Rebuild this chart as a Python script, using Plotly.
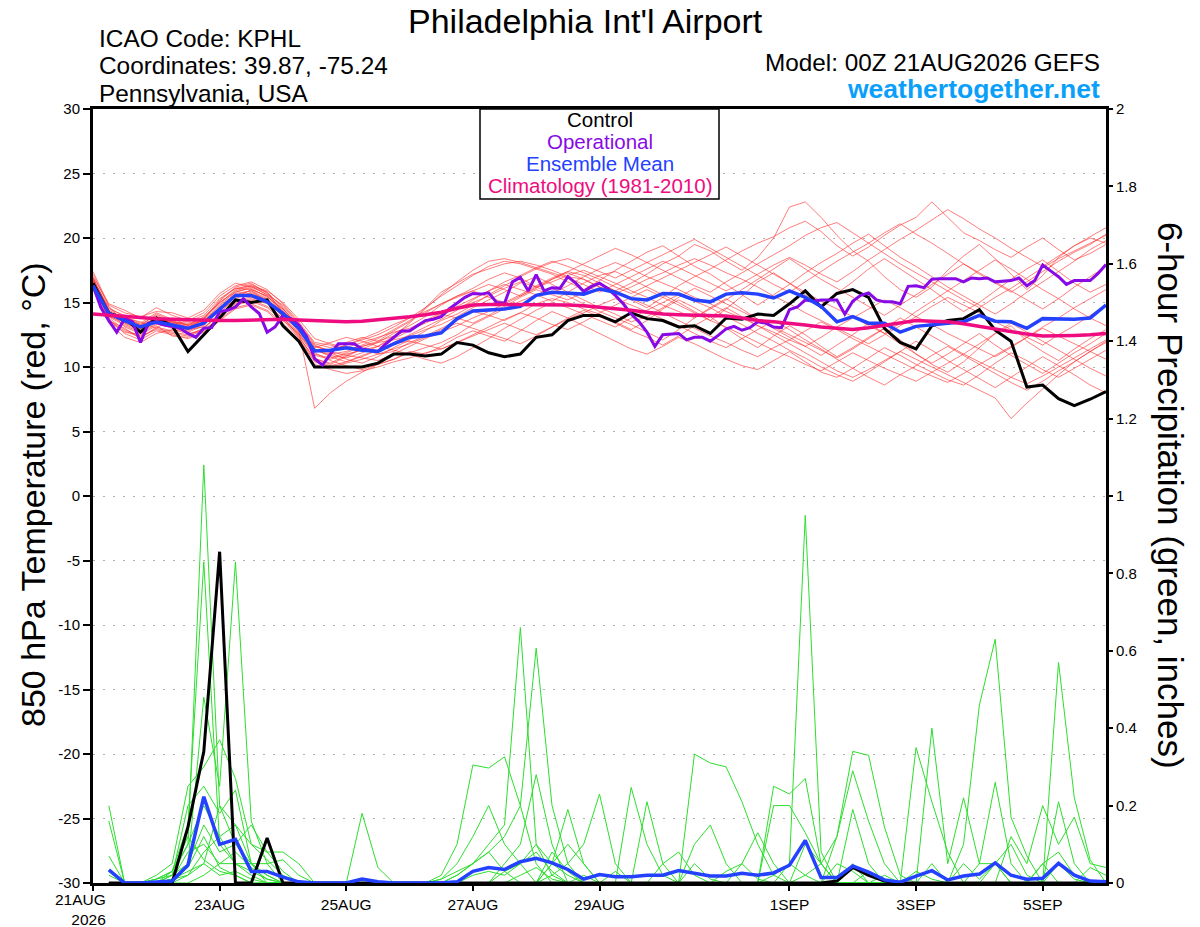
import pandas as pd
import plotly.graph_objects as go

# ---- data (6-hourly, 00Z 21 Aug 2026 start) ----
start = pd.Timestamp("2026-08-21 00:00")
t6 = pd.date_range(start, periods=65, freq="6h")
t3 = pd.date_range(start, periods=129, freq="3h")   # operational run is 3-hourly

tick_dates = ["2026-08-23", "2026-08-25", "2026-08-27", "2026-08-29",
              "2026-09-01", "2026-09-03", "2026-09-05"]
tick_text = ["23AUG", "25AUG", "27AUG", "29AUG", "1SEP", "3SEP", "5SEP"]
temp_ticks = list(range(-30, 31, 5))
precip_ticks = [0, 0.2, 0.4, 0.6, 0.8, 1, 1.2, 1.4, 1.6, 1.8, 2]

control_temp = [16.5, 14.15, 13.8, 12.7, 13.8, 13.2, 11.2, 12.5, 13.8, 15.2,
                15.0, 15.2, 13.2, 12.0, 10.0, 10.0, 10.0, 10.0, 10.3, 11.0,
                11.0, 10.85, 11.0, 11.9, 11.7, 11.1, 10.8, 11.0, 12.3, 12.5,
                13.6, 14.0, 14.0, 13.5, 14.2, 13.75, 13.6, 13.1, 13.2, 12.6,
                13.8, 13.7, 14.1, 14.0, 14.9, 15.9, 14.65, 15.7, 16.0, 15.4,
                13.0, 11.9, 11.4, 13.2, 13.6, 13.75, 14.45, 12.85, 12.0, 8.45,
                8.6, 7.55, 7.0, 7.5, 8.1]

mean_temp = [16.3, 14.15, 13.6, 13.1, 13.5, 13.25, 13.0, 13.4, 14.45, 15.55,
             15.55, 15.05, 14.15, 13.0, 11.25, 11.3, 11.5, 11.3, 11.2, 11.8,
             12.3, 12.4, 12.65, 13.75, 14.35, 14.45, 14.5, 14.7, 15.55, 15.8,
             15.75, 15.65, 16.05, 15.8, 15.3, 15.2, 15.7, 15.65, 15.2, 15.05,
             15.65, 15.75, 15.65, 15.35, 15.9, 15.4, 14.7, 13.5, 13.9, 13.4,
             13.4, 12.7, 13.15, 13.25, 13.35, 13.5, 14.0, 13.55, 13.5, 13.0,
             13.75, 13.75, 13.7, 13.8, 14.8]

clim_temp = [14.1, 14.0, 13.9, 13.8, 13.75, 13.7, 13.65, 13.6, 13.6, 13.6,
             13.65, 13.7, 13.7, 13.65, 13.6, 13.55, 13.5, 13.55, 13.65, 13.8,
             13.9, 14.05, 14.25, 14.55, 14.8, 14.85, 14.85, 14.85, 14.85, 14.85,
             14.8, 14.75, 14.65, 14.55, 14.4, 14.25, 14.1, 14.05, 14.0, 14.0,
             13.95, 13.8, 13.6, 13.5, 13.4, 13.25, 13.1, 13.0, 12.9, 13.05,
             13.25, 13.45, 13.6, 13.55, 13.5, 13.35, 13.15, 12.95, 12.7, 12.55,
             12.4, 12.4, 12.45, 12.5, 12.6]

oper_temp = [16.3, 14.6, 13.6, 12.7, 13.75, 13.5, 11.9, 13.4, 13.45, 13.25,
             13.15, 13.0, 12.6, 12.3, 13.0, 13.05, 14.3, 14.4, 14.65, 15.3,
             14.65, 14.15, 12.7, 13.1, 14.0, 13.75, 13.25, 12.35, 10.65, 10.15,
             11.0, 11.8, 11.8, 11.8, 11.4, 11.3, 11.2, 11.8, 12.3, 12.8,
             12.8, 13.2, 13.6, 13.7, 13.9, 14.5, 14.95, 15.4, 15.7, 15.65,
             15.75, 15.0, 14.95, 16.6, 16.95, 15.9, 17.15, 15.9, 16.15, 16.1,
             17.0, 16.5, 15.85, 16.25, 16.5, 16.1, 15.55, 14.9, 14.1, 13.5,
             12.7, 11.6, 12.5, 12.55, 12.6, 12.1, 12.3, 12.3, 12.0, 12.45,
             12.95, 13.15, 12.85, 13.05, 13.5, 13.4, 13.1, 13.05, 14.45, 14.65,
             15.2, 15.1, 15.2, 15.2, 15.2, 14.1, 15.1, 15.55, 15.75, 15.2,
             15.05, 15.05, 14.9, 16.25, 16.3, 16.15, 16.8, 16.85, 16.85, 16.85,
             16.6, 16.9, 16.85, 16.9, 16.6, 16.65, 16.7, 16.9, 16.3, 16.7,
             17.9, 17.45, 17.0, 16.4, 16.7, 16.7, 16.7, 17.25, 17.95]

ens_temp = [
    [16.8, 14.5, 14.0, 13.2, 14.1, 13.6, 13.2, 13.9, 15.0, 15.9, 16.3, 15.6, 14.8, 13.4, 11.8, 11.5, 11.9, 12.3, 12.0, 12.8,
     13.5, 14.6, 15.8, 16.5, 17.2, 17.6, 18.0, 18.2, 17.9, 17.5, 17.0, 16.8, 16.2, 15.9, 16.5, 17.2, 18.0, 18.6, 19.5, 19.0,
     18.2, 17.5, 18.5, 20.0, 22.4, 22.8, 21.6, 20.2, 19.0, 18.2, 17.0, 16.0, 15.4, 16.2, 17.5, 18.6, 19.5, 18.4, 17.2, 16.0,
     17.1, 18.5, 19.4, 20.0, 19.6],
    [16.5, 13.8, 12.9, 12.4, 12.9, 12.6, 12.4, 13.0, 14.2, 15.3, 15.8, 15.2, 13.9, 12.4, 10.6, 10.3, 10.9, 11.4, 11.0, 11.2,
     11.9, 12.4, 13.0, 13.6, 14.3, 14.0, 13.6, 14.2, 14.9, 15.3, 15.0, 14.5, 14.1, 13.5, 12.9, 13.6, 14.5, 15.2, 14.6, 13.9,
     13.0, 12.2, 11.5, 12.4, 13.2, 12.5, 11.6, 10.8, 11.5, 12.3, 13.0, 12.1, 11.0, 10.2, 9.6, 10.4, 11.5, 12.6, 13.2, 12.0,
     11.2, 10.5, 11.4, 12.2, 12.9],
    [17.0, 14.9, 14.4, 13.8, 14.6, 14.0, 13.6, 14.2, 15.5, 16.3, 16.6, 16.0, 14.9, 13.5, 11.9, 11.7, 11.4, 11.6, 11.9, 12.6,
     13.2, 13.9, 14.8, 15.5, 16.1, 16.8, 17.3, 16.9, 16.2, 16.8, 17.4, 17.1, 16.5, 15.9, 15.2, 14.6, 15.4, 16.3, 17.0, 17.6,
     18.3, 19.0, 19.6, 20.1, 20.8, 21.3, 20.5, 19.4, 18.6, 19.3, 20.2, 21.0, 21.6, 22.8, 21.6, 20.4, 19.8, 19.1, 18.5, 19.3,
     20.0, 19.1, 18.3, 18.8, 19.5],
    [16.2, 13.4, 12.3, 11.9, 12.6, 12.9, 12.6, 12.8, 13.9, 14.8, 15.1, 14.6, 13.6, 12.6, 11.1, 10.5, 10.1, 9.8, 10.2, 10.6,
     11.2, 11.0, 11.6, 12.3, 12.8, 12.4, 12.0, 12.8, 13.6, 14.3, 13.8, 13.2, 12.6, 12.0, 11.4, 11.0, 11.6, 12.3, 11.8, 11.2,
     10.6, 10.1, 9.8, 10.5, 11.2, 10.4, 9.6, 9.2, 9.9, 10.7, 11.5, 10.9, 10.2, 9.6, 9.0, 8.6, 9.4, 10.3, 11.1, 10.5,
     9.8, 9.2, 9.9, 10.6, 11.3],
    [16.6, 14.3, 13.8, 13.5, 13.0, 13.8, 13.2, 13.6, 14.8, 15.8, 16.1, 15.4, 14.5, 13.2, 11.4, 10.8, 10.4, 10.8, 11.3, 11.9,
     12.5, 13.1, 13.7, 14.4, 15.2, 15.9, 16.4, 16.0, 15.6, 15.1, 15.8, 16.5, 17.1, 17.4, 16.8, 16.2, 15.6, 15.0, 14.3, 13.6,
     14.5, 15.5, 16.6, 17.3, 16.5, 15.6, 14.8, 15.7, 16.6, 17.6, 18.4, 17.6, 16.8, 16.0, 15.1, 14.3, 15.0, 15.9, 16.8, 17.6,
     18.3, 17.4, 16.5, 15.8, 16.4],
    [16.4, 13.9, 13.2, 12.7, 13.4, 13.0, 12.8, 13.3, 14.4, 15.2, 15.4, 15.0, 14.1, 12.8, 6.8, 8.0, 8.9, 9.6, 10.2, 10.6,
     11.1, 11.5, 11.9, 12.5, 13.3, 13.9, 14.5, 15.1, 15.6, 16.1, 15.5, 14.9, 14.3, 13.8, 13.3, 12.7, 12.1, 12.9, 13.8, 14.6,
     15.3, 14.5, 13.7, 13.0, 12.3, 11.6, 10.9, 11.7, 12.5, 13.4, 12.6, 11.8, 11.0, 10.3, 11.0, 11.8, 12.6, 11.7, 10.9, 10.2,
     9.5, 10.3, 11.1, 11.8, 12.6],
    [17.2, 14.7, 13.4, 12.9, 13.9, 13.4, 13.1, 13.5, 14.3, 15.6, 15.9, 15.3, 14.3, 13.1, 11.6, 11.2, 11.7, 12.1, 12.5, 13.1,
     13.8, 14.6, 15.5, 16.3, 17.1, 17.8, 18.2, 18.0, 17.6, 17.2, 16.6, 16.0, 16.7, 17.5, 18.2, 18.9, 19.4, 18.6, 17.8, 17.2,
     16.4, 15.6, 14.8, 15.6, 16.4, 17.3, 18.1, 18.8, 19.6, 20.3, 19.4, 18.5, 17.8, 17.0, 16.2, 15.5, 14.8, 14.1, 14.9, 15.8,
     16.6, 17.4, 18.2, 19.1, 19.8],
    [16.0, 13.6, 13.0, 12.2, 13.1, 12.8, 12.9, 13.1, 14.0, 14.9, 15.2, 14.7, 13.8, 12.5, 10.9, 10.6, 11.0, 11.3, 11.6, 11.3,
     11.0, 10.6, 10.3, 10.8, 11.5, 12.2, 13.0, 13.7, 14.4, 15.0, 14.6, 14.1, 13.6, 13.1, 13.8, 14.4, 15.0, 15.6, 15.1, 14.6,
     13.9, 13.3, 12.6, 12.0, 11.3, 10.7, 10.0, 9.4, 8.9, 9.6, 10.4, 11.2, 12.0, 11.3, 10.5, 9.8, 9.1, 8.4, 9.2, 10.0,
     10.8, 10.1, 9.4, 8.6, 8.0],
    [16.7, 14.1, 13.7, 13.3, 13.7, 13.5, 13.4, 13.8, 14.9, 16.0, 16.4, 15.8, 14.6, 13.0, 11.3, 11.0, 11.2, 11.7, 12.2, 12.9,
     13.6, 14.2, 14.9, 15.5, 15.9, 15.4, 15.0, 15.6, 16.3, 16.9, 17.4, 18.0, 18.6, 19.2, 18.7, 18.1, 17.5, 16.9, 16.3, 15.8,
     16.6, 17.3, 18.0, 18.7, 19.4, 20.2, 20.8, 21.2, 20.4, 19.6, 18.8, 18.0, 17.3, 16.6, 15.9, 15.2, 14.6, 15.4, 16.1, 16.9,
     17.7, 18.4, 19.0, 19.6, 20.2],
    [16.9, 14.4, 13.1, 12.6, 13.3, 13.2, 12.7, 13.2, 14.6, 15.4, 16.0, 15.5, 14.4, 12.9, 11.5, 11.9, 12.3, 12.0, 11.6, 12.2,
     12.8, 13.5, 14.1, 13.8, 13.4, 14.0, 14.7, 15.4, 16.0, 15.6, 15.2, 15.8, 16.4, 15.9, 15.3, 14.8, 14.2, 13.6, 13.0, 12.4,
     11.9, 11.3, 10.8, 11.5, 12.1, 12.8, 13.5, 12.9, 12.2, 11.6, 11.0, 10.4, 9.8, 9.3, 8.8, 9.5, 10.2, 10.9, 11.6, 12.3,
     13.0, 12.4, 11.8, 11.2, 10.6],
    [16.3, 13.9, 13.5, 13.0, 13.6, 13.1, 13.0, 13.7, 15.1, 16.2, 16.5, 15.7, 14.7, 13.3, 11.7, 11.2, 10.9, 10.7, 10.5, 11.0,
     11.6, 12.2, 12.7, 13.2, 13.8, 14.3, 14.9, 15.5, 16.2, 16.6, 17.1, 17.5, 17.0, 16.5, 15.9, 15.4, 14.8, 14.3, 13.8, 14.5,
     15.2, 16.0, 16.8, 17.6, 18.4, 17.6, 16.8, 16.1, 15.4, 14.7, 14.0, 14.8, 15.6, 16.4, 17.2, 18.0, 17.3, 16.6, 15.9, 15.2,
     14.5, 15.3, 16.2, 17.0, 17.8],
    [16.1, 13.5, 12.7, 12.5, 13.2, 12.4, 12.3, 12.9, 13.7, 14.6, 14.9, 14.4, 13.4, 12.1, 10.4, 10.0, 10.3, 10.6, 11.0, 11.4,
     11.8, 12.3, 12.9, 13.4, 13.0, 12.6, 12.2, 11.8, 12.4, 13.1, 13.8, 14.4, 13.9, 13.4, 12.8, 12.3, 11.7, 12.4, 13.2, 13.9,
     14.6, 13.9, 13.2, 12.5, 11.8, 11.1, 10.4, 9.7, 9.2, 9.8, 10.5, 11.2, 10.6, 10.0, 9.4, 8.8, 8.2, 7.6, 6.0, 7.2,
     8.3, 9.4, 10.4, 11.2, 12.0],
    [17.4, 14.8, 14.2, 13.9, 14.3, 14.2, 13.8, 14.4, 15.7, 16.5, 16.2, 15.8, 14.2, 12.7, 11.3, 10.9, 10.7, 11.1, 11.6, 12.4,
     13.4, 14.5, 15.6, 16.6, 17.5, 18.2, 18.4, 18.1, 17.7, 17.3, 16.9, 16.4, 15.8, 16.4, 17.0, 17.6, 18.2, 17.7, 17.1, 16.5,
     15.9, 16.5, 17.2, 17.9, 18.5, 17.9, 17.2, 16.6, 17.4, 18.3, 19.1, 19.9, 20.6, 21.4, 22.2, 21.5, 20.7, 20.0, 19.2, 18.5,
     17.8, 18.6, 19.4, 20.1, 20.8],
    [16.6, 14.0, 13.3, 12.8, 13.8, 13.4, 13.3, 13.6, 14.7, 15.7, 15.9, 15.1, 13.9, 12.3, 10.7, 10.2, 10.8, 11.4, 11.9, 12.1,
     12.4, 12.9, 13.3, 13.9, 14.6, 15.2, 15.8, 16.5, 17.0, 16.4, 15.8, 15.2, 14.6, 14.1, 13.5, 13.9, 14.6, 15.4, 16.1, 15.5,
     14.9, 14.3, 13.7, 13.1, 12.5, 11.9, 11.3, 10.7, 11.4, 12.2, 13.0, 13.8, 13.1, 12.4, 11.7, 11.0, 11.8, 12.6, 13.4, 12.7,
     12.0, 11.3, 10.6, 9.9, 9.3],
    [16.8, 14.6, 13.9, 13.4, 14.2, 13.7, 13.5, 14.0, 15.3, 16.1, 16.3, 15.9, 15.0, 13.7, 12.2, 11.8, 11.5, 11.9, 12.3, 12.7,
     13.0, 13.6, 14.2, 14.7, 15.3, 15.9, 16.6, 17.1, 17.7, 18.2, 17.8, 17.3, 16.8, 16.2, 15.7, 16.3, 16.9, 17.5, 18.1, 18.7,
     19.3, 18.6, 17.9, 17.2, 16.5, 15.8, 15.1, 14.5, 13.9, 13.2, 12.6, 13.4, 14.3, 15.1, 15.9, 16.7, 17.5, 18.3, 17.6, 16.8,
     16.0, 15.3, 14.5, 13.8, 13.2],
    [16.4, 13.7, 12.6, 12.1, 12.8, 12.5, 12.2, 12.7, 13.6, 14.5, 14.8, 14.3, 13.2, 11.9, 10.2, 9.8, 9.5, 9.7, 10.0, 10.4,
     10.7, 11.1, 11.4, 11.9, 12.4, 12.9, 13.4, 12.9, 12.5, 13.1, 13.7, 14.2, 14.8, 15.3, 14.8, 14.3, 13.7, 13.2, 12.6, 12.0,
     11.5, 12.2, 12.9, 13.6, 12.9, 12.1, 11.4, 10.6, 9.9, 9.2, 8.6, 9.4, 10.1, 10.9, 11.6, 10.9, 10.2, 9.5, 8.8, 8.2,
     8.9, 9.7, 10.4, 11.2, 11.9],
    [16.6, 14.2, 13.4, 13.0, 13.6, 13.3, 12.9, 13.5, 14.6, 15.6, 15.7, 15.2, 14.0, 12.6, 11.0, 10.7, 11.1, 11.6, 12.0, 12.4,
     12.9, 13.4, 14.0, 14.6, 15.0, 15.5, 16.1, 16.6, 16.2, 15.7, 16.3, 17.0, 17.6, 18.1, 17.6, 17.0, 16.5, 16.0, 15.4, 14.9,
     14.3, 13.8, 13.2, 12.7, 12.1, 11.6, 12.3, 13.1, 13.8, 14.5, 15.2, 14.6, 13.9, 13.3, 12.6, 12.0, 11.4, 10.8, 11.5, 12.3,
     13.1, 13.8, 14.6, 15.3, 16.0],
    [16.9, 14.3, 13.6, 13.1, 13.9, 13.5, 13.1, 13.7, 15.2, 16.1, 16.0, 15.5, 14.3, 12.9, 11.4, 11.1, 10.6, 10.3, 10.8, 11.5,
     12.1, 12.8, 13.6, 14.1, 14.8, 15.6, 16.3, 17.0, 17.6, 18.1, 18.4, 17.9, 17.4, 16.9, 17.5, 18.1, 18.7, 19.3, 19.9, 19.2,
     18.5, 17.8, 17.1, 16.4, 15.8, 16.6, 17.4, 18.2, 18.9, 19.6, 20.4, 21.1, 20.3, 19.6, 18.8, 18.0, 17.2, 16.5, 15.8, 16.6,
     17.4, 18.2, 18.9, 19.5, 20.3],
    [16.2, 13.6, 12.8, 12.3, 13.0, 12.7, 12.5, 13.0, 14.1, 15.0, 15.3, 14.9, 13.7, 12.2, 10.5, 10.1, 10.4, 10.9, 11.3, 11.8,
     12.0, 11.7, 11.4, 11.9, 12.5, 13.1, 13.7, 14.2, 13.8, 13.3, 12.9, 13.5, 14.2, 14.8, 15.4, 16.0, 15.4, 14.8, 14.2, 13.6,
     13.1, 12.5, 11.9, 11.3, 10.8, 10.2, 9.7, 10.4, 11.1, 10.5, 9.9, 9.4, 8.9, 9.6, 10.3, 11.0, 10.4, 9.8, 9.2, 8.7,
     9.3, 10.0, 10.7, 11.4, 12.1],
    [16.7, 14.4, 13.8, 13.3, 14.0, 13.5, 13.3, 13.8, 15.0, 15.8, 16.2, 15.6, 14.5, 13.1, 11.6, 11.3, 11.7, 12.2, 12.7, 13.3,
     13.8, 14.3, 14.9, 15.4, 15.9, 16.4, 16.0, 15.5, 16.1, 16.8, 17.3, 16.8, 16.2, 15.7, 16.2, 16.8, 17.3, 17.9, 18.4, 17.9,
     17.3, 16.8, 16.2, 15.5, 14.9, 14.2, 13.6, 13.0, 12.4, 11.8, 12.5, 13.2, 13.9, 14.7, 15.4, 14.8, 14.2, 13.5, 12.9, 12.3,
     11.7, 12.5, 13.2, 14.0, 14.8],
]

# 6-hour precipitation, first value is the 06Z 21 Aug accumulation
control_precip = [0, 0, 0, 0, 0, .145, .34, .856, 0, 0, .116, 0, 0, 0, 0, 0,
                  0, 0, 0, 0, 0, 0, 0, 0, 0, 0, 0, 0, 0, 0, 0, 0,
                  0, 0, 0, 0, 0, 0, 0, 0, 0, 0, 0, 0, 0, 0, .005, .04,
                  .02, .005, 0, 0, 0, 0, 0, 0, 0, 0, 0, 0, 0, 0, 0, 0]

mean_precip = [.034, 0, 0, .002, .005, .046, .223, .10, .113, .03, .03, .015, .003, 0, 0, 0,
               .01, .003, 0, 0, 0, 0, .003, .03, .04, .035, .055, .064, .052, .035, .01, .022,
               .016, .016, .02, .02, .032, .026, .018, .018, .025, .02, .026, .046, .11, .014, .014, .044,
               .028, .008, .002, .018, .032, .008, .018, .023, .052, .02, .01, .012, .051, .02, .005, .003]

ens_precip = [
    [.2, 0, 0, .01, .02, .1, 1.08, .2, .1, .05, .02, 0, 0, 0, 0, 0, 0, 0, 0, 0, 0, .01, .03, .05,
     .1, .15, .66, .1, .02, 0, 0, 0, 0, 0, 0, 0, 0, 0, 0, 0, 0, 0, .02, .05, .95, .08, 0, 0,
     0, 0, 0, 0, 0, 0, 0, 0, .05, 0, 0, 0, 0, 0, 0, 0],
    [.16, 0, 0, 0, .03, .15, .83, .1, .05, .02, 0, 0, 0, 0, 0, 0, 0, 0, 0, 0, 0, .02, .1, .305,
     .297, .326, .2, .05, 0, 0, 0, 0, 0, 0, 0, 0, 0, .333, .31, .3, .21, .1, .02, 0, 0, 0, 0, .05,
     0, 0, 0, 0, 0, 0, 0, 0, 0, 0, 0, 0, .21, .05, 0, 0],
    [.07, 0, 0, 0, .01, .05, .48, .25, .83, .16, .05, 0, 0, 0, 0, 0, 0, 0, 0, 0, 0, 0, .02, .05,
     .08, .12, .2, .607, .2, .05, 0, 0, 0, 0, 0, 0, 0, 0, 0, 0, 0, 0, 0, 0, .02, .05, .12, .34,
     .33, .145, .02, 0, 0, 0, 0, 0, 0, 0, 0, 0, 0, 0, 0, 0],
    [.03, 0, 0, .02, .05, .25, .3, .37, .27, .1, .08, .08, .05, 0, 0, 0, .18, .04, 0, 0, 0, 0, 0, 0,
     0, 0, 0, 0, .02, .05, .1, .23, .05, 0, 0, 0, 0, 0, 0, 0, 0, 0, 0, 0, 0, 0, 0, 0,
     0, 0, 0, .35, .21, .08, 0, 0, 0, 0, 0, .05, 0, 0, 0, 0],
    [0, 0, 0, 0, .02, .2, .25, .18, .24, .05, 0, 0, 0, 0, 0, 0, 0, 0, 0, 0, 0, .01, .05, .12,
     .2, .1, .05, 0, 0, 0, 0, 0, 0, .247, .1, .02, 0, 0, 0, 0, 0, 0, 0, 0, 0, 0, 0, 0,
     0, 0, 0, 0, .40, .05, .22, .05, .05, 0, 0, 0, 0, 0, 0, 0],
    [0, 0, 0, .01, .03, .1, .2, .12, .15, .1, .06, .02, 0, 0, 0, 0, 0, 0, 0, 0, 0, 0, 0, 0,
     0, 0, 0, 0, .05, .19, .05, 0, 0, 0, 0, 0, 0, 0, 0, 0, 0, 0, .25, .23, .27, .05, 0, 0,
     0, 0, 0, 0, 0, 0, .1, .46, .63, .17, .07, 0, 0, 0, 0, 0],
    [0, 0, 0, 0, .02, .05, .15, .08, .1, .15, .08, .03, 0, 0, 0, 0, 0, 0, 0, 0, 0, 0, 0, 0,
     0, .05, .1, .28, .1, 0, 0, 0, 0, 0, 0, 0, 0, .1, .15, .05, 0, 0, 0, 0, 0, 0, .12, .29,
     .16, .05, 0, 0, 0, 0, 0, 0, 0, 0, 0, 0, .57, .22, .06, 0],
    [.03, 0, 0, 0, .01, .08, .1, .05, .05, .05, .05, .06, .02, 0, 0, 0, 0, 0, 0, 0, 0, 0, .02, .05,
     .08, .03, 0, 0, 0, 0, 0, 0, 0, 0, .21, .05, 0, 0, 0, 0, 0, 0, .2, .2, .13, .05, 0, 0,
     0, 0, 0, 0, 0, 0, 0, 0, 0, .12, .05, .2, .1, .17, .05, .04],
    [0, 0, 0, 0, .01, .03, .05, .02, .03, .01, 0, 0, 0, 0, 0, 0, 0, 0, 0, 0, 0, 0, 0, .02,
     .03, .02, .05, .1, .05, .02, 0, 0, 0, 0, 0, 0, 0, 0, 0, 0, .05, .13, .05, 0, 0, 0, 0, .19,
     .05, 0, 0, 0, 0, 0, 0, .05, .26, .05, 0, 0, 0, 0, 0, 0],
    [0, 0, 0, 0, 0, 0, .02, .05, .08, .04, .01, 0, 0, 0, 0, 0, 0, 0, 0, 0, 0, 0, 0, 0,
     0, 0, 0, 0, .05, .1, .05, 0, 0, 0, 0, .05, .08, .02, 0, 0, 0, 0, 0, 0, .1, .05, 0, 0,
     0, 0, 0, 0, .05, 0, 0, 0, 0, 0, 0, .05, .08, .02, 0, 0],
    [.02, 0, 0, .01, .03, .12, .06, .03, .02, 0, 0, 0, 0, 0, 0, 0, 0, 0, 0, 0, 0, 0, 0, 0,
     0, .03, .05, .08, .03, 0, 0, 0, .03, 0, 0, 0, 0, 0, 0, 0, 0, 0, 0, .05, .02, 0, 0, 0,
     0, 0, 0, .03, .01, 0, 0, 0, 0, 0, 0, 0, 0, 0, .04, .02],
    [0, 0, 0, 0, .01, .02, .08, .12, .05, .03, .01, 0, 0, 0, 0, 0, 0, 0, 0, 0, 0, 0, 0, 0,
     0, 0, 0, 0, .08, .03, 0, 0, 0, 0, 0, 0, 0, 0, 0, 0, 0, 0, 0, 0, 0, 0, .05, .03,
     0, 0, 0, 0, 0, 0, .05, .01, .05, .1, .02, 0, 0, 0, 0, 0],
    [0, 0, 0, 0, .01, .04, .12, .04, .02, 0, 0, 0, 0, 0, 0, 0, 0, 0, 0, 0, 0, 0, 0, 0,
     0, 0, .02, .04, .01, 0, 0, 0, 0, 0, 0, 0, 0, 0, 0, .03, .05, .01, 0, 0, 0, 0, 0, 0,
     0, .02, 0, 0, 0, 0, 0, 0, 0, 0, 0, 0, .05, .01, 0, 0],
    [0, 0, 0, 0, 0, .02, .05, .2, .15, .05, .02, 0, 0, 0, 0, 0, 0, 0, 0, 0, 0, 0, 0, 0,
     0, 0, 0, 0, 0, 0, .02, 0, 0, 0, 0, 0, 0, .05, .01, 0, 0, 0, 0, 0, 0, 0, 0, 0,
     .03, 0, 0, 0, 0, 0, 0, 0, 0, 0, 0, 0, 0, 0, 0, 0],
]

FONT = "Liberation Sans, Arial, Helvetica, sans-serif"
RED = "rgba(255,45,45,0.62)"
GREEN = "rgb(45,222,45)"
BLACK = "black"
PURPLE = "rgb(135,10,230)"
BLUE = "rgb(35,65,255)"
PINK = "rgb(238,12,128)"

# page body margin is removed in the html (post_script), so figure px == screen px
W, H = 1200, 927
SL, SR, ST, SB = 93, 1106, 109, 883       # plot box on screen
L, R = SL, W - SR
T, B = ST, H - SB


def px(x):
    return (x - SL) / (SR - SL)


def py(y):
    return (SB - y) / (SB - ST)


fig = go.Figure()

for m in ens_temp:
    fig.add_trace(go.Scatter(x=t6[:len(m)], y=m, mode="lines",
                             line=dict(color=RED, width=1), hoverinfo="skip"))

pt = t6[1:]
for m in ens_precip:
    fig.add_trace(go.Scatter(x=pt[:len(m)], y=m, mode="lines", yaxis="y2",
                             line=dict(color=GREEN, width=1), hoverinfo="skip"))

fig.add_trace(go.Scatter(x=pt[:len(control_precip)], y=control_precip, mode="lines", yaxis="y2",
                         line=dict(color=BLACK, width=3)))
fig.add_trace(go.Scatter(x=pt[:len(mean_precip)], y=mean_precip, mode="lines", yaxis="y2",
                         line=dict(color=BLUE, width=3.5)))

fig.add_trace(go.Scatter(x=t6[:len(control_temp)], y=control_temp, mode="lines",
                         line=dict(color=BLACK, width=3)))
fig.add_trace(go.Scatter(x=t3[:len(oper_temp)], y=oper_temp, mode="lines",
                         line=dict(color=PURPLE, width=3)))
fig.add_trace(go.Scatter(x=t6[:len(mean_temp)], y=mean_temp, mode="lines",
                         line=dict(color=BLUE, width=3.5)))
fig.add_trace(go.Scatter(x=t6[:len(clim_temp)], y=clim_temp, mode="lines",
                         line=dict(color=PINK, width=3.5)))

ann = []


def text(x, y, s, size, color="black", xanchor="center", angle=0):
    ann.append(dict(x=px(x), y=py(y), xref="paper", yref="paper", text=s,
                    showarrow=False, xanchor=xanchor, yanchor="middle",
                    textangle=angle, font=dict(family=FONT, size=size, color=color)))


text(585, 21, "Philadelphia Int'l Airport", 34)
text(97, 39, "ICAO Code: KPHL", 24.4, xanchor="left")
text(97, 66, "Coordinates: 39.87, -75.24", 24.4, xanchor="left")
text(97, 93, "Pennsylvania, USA", 24.4, xanchor="left")
text(1102, 63, "Model: 00Z 21AUG2026 GEFS", 24.3, xanchor="right")
text(1102, 89, "<b>weathertogether.net</b>", 26.5, color="rgb(10,160,250)", xanchor="right")

text(600, 120, "Control", 20.5)
text(600, 141, "Operational", 20.5, color=PURPLE)
text(600, 163, "Ensemble Mean", 20.5, color=BLUE)
text(600, 185, "Climatology (1981-2010)", 20.5, color=PINK)

text(33, 495, "850 hPa Temperature (red, °C)", 34, angle=-90)
text(1170, 495, "6-hour Precipitation (green, inches)", 35, angle=90)

ann.append(dict(x=px(108), y=py(889), xref="paper", yref="paper",
                text="21AUG<br>2026", showarrow=False, xanchor="right", yanchor="top",
                align="right", font=dict(family=FONT, size=15.5, color="black")))

fig.update_layout(
    width=W, height=H,
    margin=dict(l=L, r=R, t=T, b=B),
    paper_bgcolor="white", plot_bgcolor="white",
    showlegend=False,
    font=dict(family=FONT, color="black"),
    annotations=ann,
    shapes=[dict(type="rect", xref="paper", yref="paper",
                 x0=px(480), x1=px(719), y0=py(199), y1=py(109),
                 line=dict(color="black", width=1.5), fillcolor="white", layer="above")],
    xaxis=dict(
        type="date",
        range=[start, start + pd.Timedelta(days=16)],
        tickvals=["2026-08-21"] + tick_dates,
        ticktext=[""] + tick_text,
        ticks="outside", ticklen=5, tickwidth=1.5, tickcolor="black",
        showline=True, linewidth=3, linecolor="black", mirror=True,
        showgrid=False, zeroline=False,
        tickfont=dict(family=FONT, size=15.5),
    ),
    yaxis=dict(
        range=[-30, 30],
        tickvals=temp_ticks,
        ticktext=[str(v) for v in temp_ticks],
        ticks="outside", ticklen=7, tickwidth=1.5, tickcolor="black",
        showline=True, linewidth=3, linecolor="black", mirror=True,
        showgrid=True, gridcolor="#b0b0b0", gridwidth=1, griddash="2px,8px",
        zeroline=False,
        tickfont=dict(family=FONT, size=15),
    ),
    yaxis2=dict(
        overlaying="y", side="right",
        range=[0, 2],
        tickvals=precip_ticks,
        ticktext=[f"{v:g}" for v in precip_ticks],
        ticks="outside", ticklen=6, tickwidth=1.5, tickcolor="black",
        showline=False, showgrid=False, zeroline=False,
        tickfont=dict(family=FONT, size=15),
    ),
)

fig.write_html("out.html", config={"displayModeBar": False},
               post_script="document.body.style.margin='0';")
